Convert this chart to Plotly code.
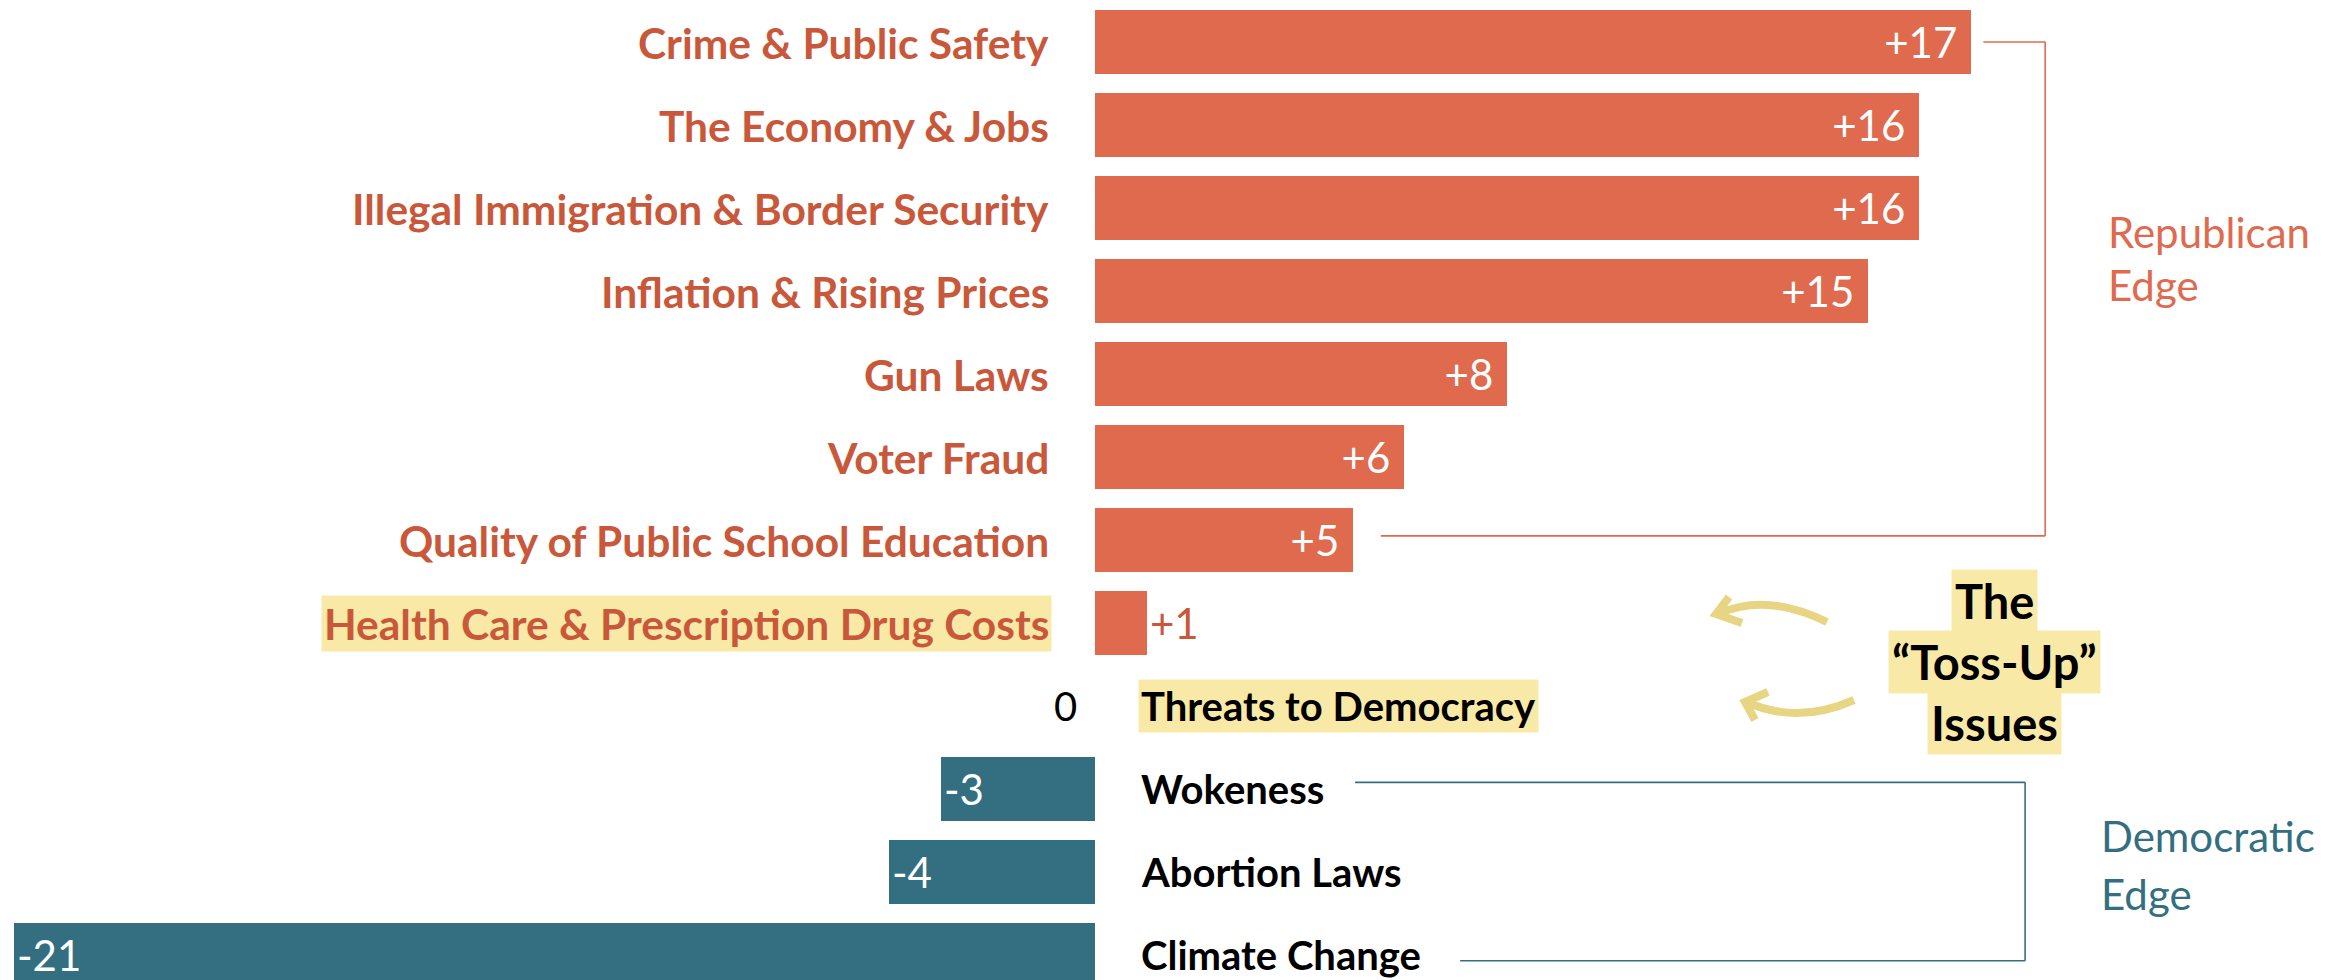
import plotly.graph_objects as go

# ---------------- data ----------------
categories = [
    "Crime & Public Safety",
    "The Economy & Jobs",
    "Illegal Immigration & Border Security",
    "Inflation & Rising Prices",
    "Gun Laws",
    "Voter Fraud",
    "Quality of Public School Education",
    "Health Care & Prescription Drug Costs",
    "Threats to Democracy",
    "Wokeness",
    "Abortion Laws",
    "Climate Change",
]
values = [17, 16, 16, 15, 8, 6, 5, 1, 0, -3, -4, -21]
highlighted = ["Health Care & Prescription Drug Costs", "Threats to Democracy"]
rep_label = ["Republican", "Edge"]
dem_label = ["Democratic", "Edge"]
tossup_lines = ["The", "\u201cToss-Up\u201d", "Issues"]

# ---------------- styles ----------------
W, H = 2347, 980
ORANGE = "#E06A4E"
ORANGE_TXT = "#C9583B"
TEAL = "#336F80"
YELLOW = "#F9E9A6"
ARROW = "#E8D584"
FONT = "Lato"
NB = "\u00a0"


def fmt(v):
    if v > 1:
        return f"+{v}" + NB
    if v > 0:
        return f"+{v}"
    if v < 0:
        return f"{v}"
    return ""


colors = [ORANGE if v > 0 else TEAL for v in values]
texts = [fmt(v) for v in values]

fig = go.Figure(
    go.Bar(
        x=values,
        y=categories,
        orientation="h",
        marker=dict(color=colors, line=dict(width=0)),
        width=0.77,
        text=texts,
        textposition="auto",
        insidetextanchor="end",
        textangle=0,
        constraintext="none",
        insidetextfont=dict(color="white", size=42, family=FONT),
        outsidetextfont=dict(color=ORANGE_TXT, size=42, family=FONT),
        cliponaxis=False,
        hoverinfo="skip",
    )
)

annotations = []
for cat, v in zip(categories, values):
    hl = cat in highlighted
    if v > 0:
        annotations.append(dict(
            x=0, y=cat, xref="x", yref="y", text=cat, showarrow=False,
            xanchor="right", yanchor="middle", xshift=-43,
            font=dict(family=FONT, size=42.5, color=ORANGE_TXT, weight=700),
            bgcolor=YELLOW if hl else "rgba(0,0,0,0)", borderpad=2,
        ))
    else:
        annotations.append(dict(
            x=0, y=cat, xref="x", yref="y", text=cat, showarrow=False,
            xanchor="left", yanchor="middle", xshift=43,
            font=dict(family=FONT, size=40, color="black", weight=700),
            bgcolor=YELLOW if hl else "rgba(0,0,0,0)", borderpad=2,
        ))
    if v == 0:
        annotations.append(dict(
            x=0, y=cat, xref="x", yref="y", text=str(v), showarrow=False,
            xanchor="right", yanchor="middle", xshift=-16,
            font=dict(family=FONT, size=40, color="black"),
        ))

# side labels
for i, t in enumerate(rep_label):
    annotations.append(dict(
        x=2106 / W, y=1 - (232 + 53 * i) / H, xref="paper", yref="paper",
        text=t, showarrow=False, xanchor="left", yanchor="middle",
        font=dict(family=FONT, size=42, color=ORANGE),
    ))
for i, t in enumerate(dem_label):
    annotations.append(dict(
        x=2099 / W, y=1 - (836 + 58 * i) / H, xref="paper", yref="paper",
        text=t, showarrow=False, xanchor="left", yanchor="middle",
        font=dict(family=FONT, size=42, color=TEAL),
    ))
for i, t in enumerate(tossup_lines):
    annotations.append(dict(
        x=1994 / W, y=1 - (601 + 61 * i) / H, xref="paper", yref="paper",
        text=t, showarrow=False, xanchor="center", yanchor="middle",
        font=dict(family=FONT, size=47, color="black", weight=700),
        bgcolor=YELLOW, borderpad=3,
    ))

shapes = []
# Republican bracket (data coordinates)
for x0, y0, x1, y1 in [(17.25, 0, 18.45, 0), (18.45, 0, 18.45, 5.95), (18.45, 5.95, 5.55, 5.95)]:
    shapes.append(dict(type="line", xref="x", yref="y", x0=x0, y0=y0, x1=x1, y1=y1,
                       line=dict(color=ORANGE, width=1.6)))
# Democratic bracket
for x0, y0, x1, y1 in [(5.05, 8.92, 18.06, 8.92), (18.06, 8.92, 18.06, 11.07), (18.06, 11.07, 7.09, 11.07)]:
    shapes.append(dict(type="line", xref="x", yref="y", x0=x0, y0=y0, x1=x1, y1=y1,
                       line=dict(color=TEAL, width=1.6)))


def P(x, y):
    return f"{x / W:.5f},{1 - y / H:.5f}"


arrow_paths = [
    f"M {P(1827, 622)} Q {P(1766, 592)} {P(1718, 614)}",
    f"M {P(1729, 597)} L {P(1716, 614)} L {P(1742, 623)}",
    f"M {P(1854, 700)} Q {P(1798, 725)} {P(1746, 702)}",
    f"M {P(1768, 692)} L {P(1745, 702)} L {P(1755, 720)}",
]
for p in arrow_paths:
    shapes.append(dict(type="path", xref="paper", yref="paper", path=p,
                       line=dict(color=ARROW, width=8)))

unit = 51.5
zero_px = 1095
fig.update_layout(
    width=W, height=H,
    margin=dict(l=0, r=0, t=0, b=0),
    paper_bgcolor="white", plot_bgcolor="white",
    showlegend=False,
    bargap=0,
    font=dict(family=FONT),
    xaxis=dict(range=[-zero_px / unit, (W - zero_px) / unit], visible=False,
               showgrid=False, zeroline=False),
    yaxis=dict(type="category", categoryorder="array", categoryarray=categories,
               range=[(H - 42) / 83, -42 / 83], visible=False,
               showgrid=False, zeroline=False),
    annotations=annotations,
    shapes=shapes,
)

fig.write_html(
    "out.html",
    config={"displayModeBar": False},
    post_script="document.body.style.margin='0';document.body.style.padding='0';document.body.style.overflow='hidden';",
)
